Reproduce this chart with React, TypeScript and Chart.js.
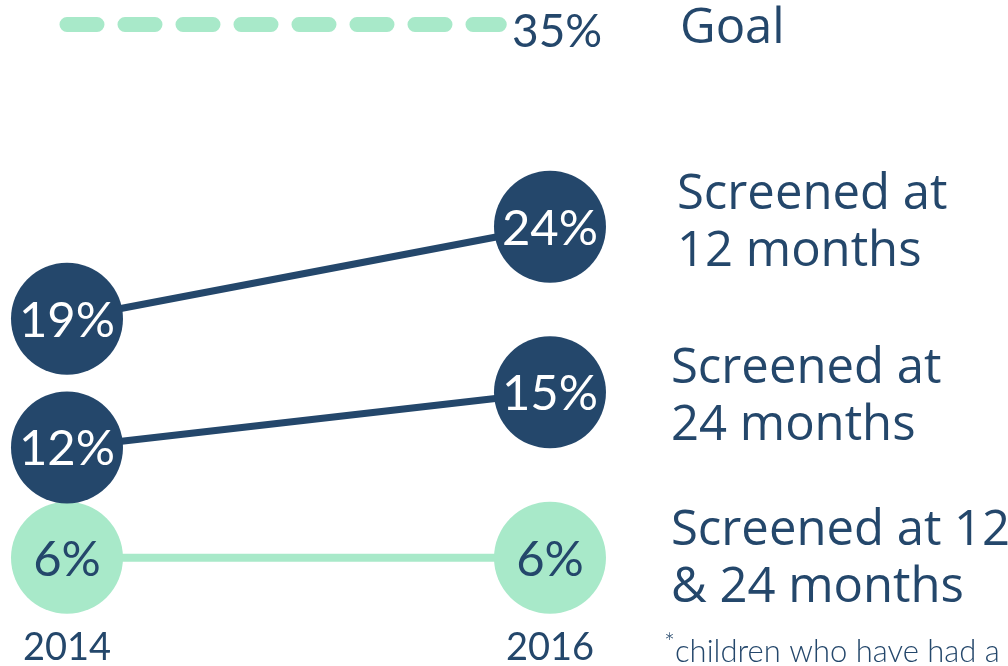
import React, { useEffect, useRef } from "react";
import { Chart, registerables } from "chart.js";

Chart.register(...registerables);

const years = [2014, 2016];
const screened12 = [19, 24];
const screened24 = [12, 15];
const screenedBoth = [6, 6];
const seriesNames = [
  ["Screened at", "12 months"],
  ["Screened at", "24 months"],
  ["Screened at 12", "& 24 months"],
];
const goalValue = 35;
const goalSpan = [2014, 2015.79];
const goalLabel = "Goal";
const footnote = "children who have had a";

const NAVY = "#24476b";
const MINT = "#a8e9c9";
const NUM_FONT = "Lato, 'Noto Sans', sans-serif";
const TXT_FONT = "'Open Sans', 'Noto Sans', sans-serif";

export default function App() {
  const ref = useRef<HTMLCanvasElement | null>(null);

  useEffect(() => {
    if (!ref.current) return;
    const mk = (vals: number[]) => vals.map((v, i) => ({ x: years[i], y: v }));

    const labelsPlugin = {
      id: "labels",
      afterDatasetsDraw(chart: any) {
        const ctx = chart.ctx;
        const xs = chart.scales.x;
        const ys = chart.scales.y;
        ctx.save();
        const series = [screened12, screened24, screenedBoth];
        const nameOffsets = [-18, -9, -13];
        const nameX = [677, 671, 671];
        series.forEach((vals, si) => {
          const meta = chart.getDatasetMeta(si);
          ctx.textBaseline = "middle";
          vals.forEach((v, i) => {
            const el = meta.data[i];
            ctx.font = `400 49px ${NUM_FONT}`;
            ctx.textAlign = "center";
            ctx.fillStyle = si === 2 ? NAVY : "#ffffff";
            ctx.fillText(`${v}%`, el.x, el.y + 2);
          });
          const yEnd = ys.getPixelForValue(vals[vals.length - 1]);
          ctx.textBaseline = "alphabetic";
          ctx.font = `400 49px ${TXT_FONT}`;
          ctx.textAlign = "left";
          ctx.fillStyle = NAVY;
          ctx.fillText(seriesNames[si][0], nameX[si], yEnd + nameOffsets[si]);
          ctx.fillText(seriesNames[si][1], nameX[si], yEnd + nameOffsets[si] + 57);
        });
        const gy = ys.getPixelForValue(goalValue);
        ctx.textBaseline = "middle";
        ctx.textAlign = "left";
        ctx.fillStyle = NAVY;
        ctx.font = `400 46px ${NUM_FONT}`;
        ctx.fillText(`${goalValue}%`, 512, gy + 8);
        ctx.font = `400 49px ${TXT_FONT}`;
        ctx.fillText(goalLabel, 680, gy + 5);
        ctx.font = `400 38px ${NUM_FONT}`;
        ctx.textAlign = "center";
        years.forEach((yr) => {
          ctx.fillText(String(yr), xs.getPixelForValue(yr), 648);
        });
        ctx.textAlign = "left";
        ctx.textBaseline = "alphabetic";
        ctx.font = `300 26px ${NUM_FONT}`;
        ctx.fillText("*", 664, 652);
        ctx.font = `300 31px ${NUM_FONT}`;
        ctx.fillText(footnote, 675, 662);
        ctx.restore();
      },
    };

    const chart = new Chart(ref.current, {
      type: "line",
      data: {
        datasets: [
          {
            data: mk(screened12),
            borderColor: NAVY,
            borderWidth: 7,
            pointRadius: 56,
            pointBackgroundColor: NAVY,
            pointBorderWidth: 0,
            clip: false,
          } as any,
          {
            data: mk(screened24),
            borderColor: NAVY,
            borderWidth: 7,
            pointRadius: 56,
            pointBackgroundColor: NAVY,
            pointBorderWidth: 0,
            clip: false,
          },
          {
            data: mk(screenedBoth),
            borderColor: MINT,
            borderWidth: 8,
            pointRadius: 56,
            pointBackgroundColor: MINT,
            pointBorderWidth: 0,
            clip: false,
          },
          {
            data: goalSpan.map((x) => ({ x, y: goalValue })),
            borderColor: MINT,
            borderWidth: 15,
            borderDash: [30, 28],
            borderCapStyle: "round",
            pointRadius: 0,
            clip: false,
          },
        ],
      },
      options: {
        animation: false,
        responsive: false,
        events: [],
        layout: { padding: 0, autoPadding: false },
        plugins: { legend: { display: false }, tooltip: { enabled: false } },
        scales: {
          x: { type: "linear", min: 2013.7226, max: 2017.8966, display: false },
          y: { type: "linear", min: 0.12, max: 36.33, display: false },
        },
      },
      plugins: [labelsPlugin],
    });
    return () => chart.destroy();
  }, []);

  return (
    <div style={{ position: "absolute", left: 0, top: 0, width: 1008, height: 666, background: "#fff" }}>
      <canvas ref={ref} width={1008} height={666} />
    </div>
  );
}
